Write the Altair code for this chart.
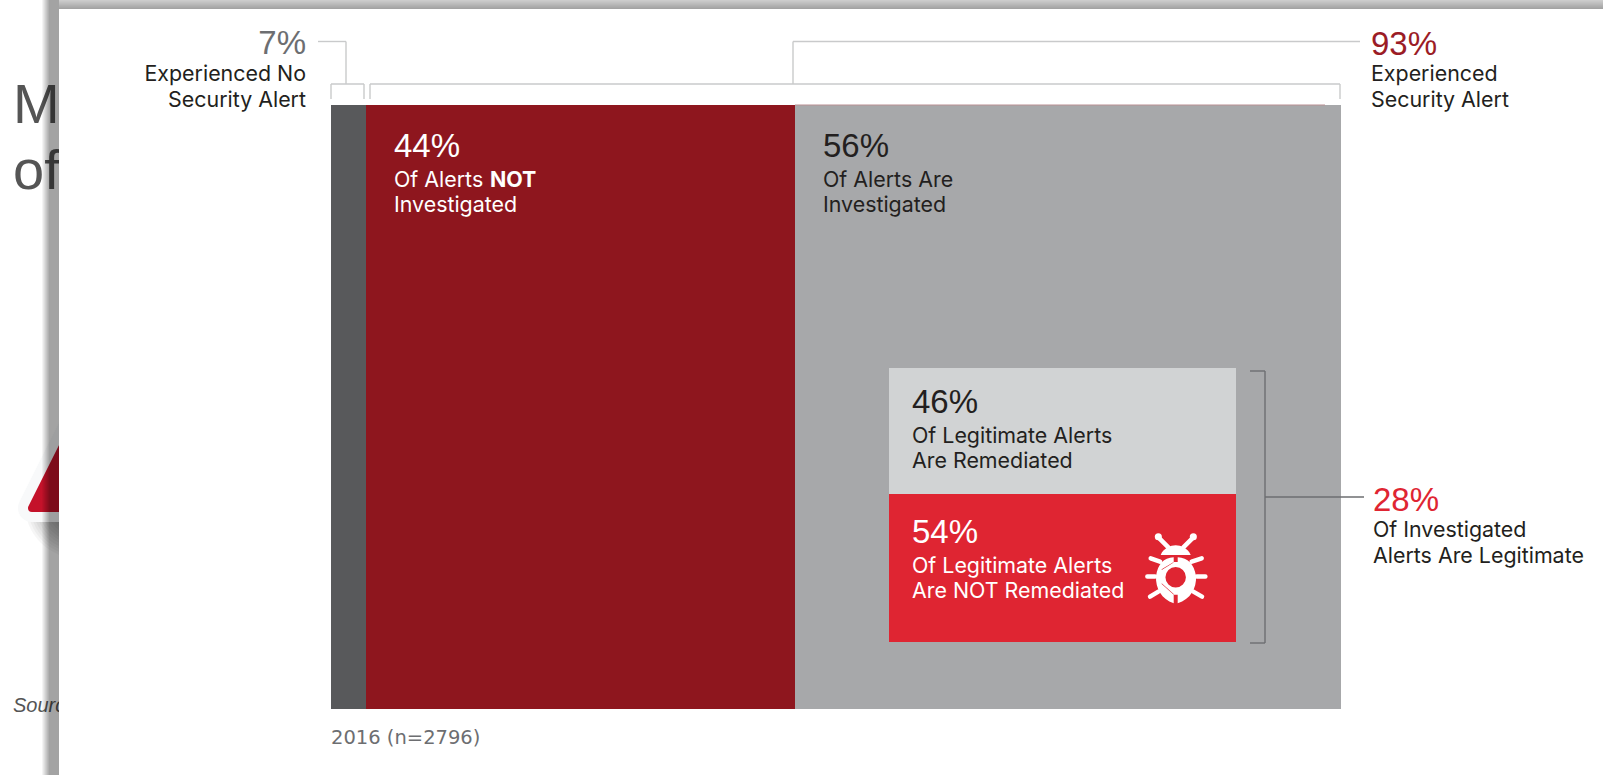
import re
import altair as alt

# Shares shown in the chart (percent)
no_alert, with_alert = 7, 93
not_investigated, investigated = 44, 56
remediated, not_remediated = 46, 54
legitimate = 28

SEG_COLORS = ["#58595b", "#8e161e", "#a7a8aa"]
BOX_COLORS = ["#df2532", "#d1d3d4"]
SANS = "Liberation Sans"
BODY = "Inter"
ONE = {"values": [{}]}

split = no_alert + with_alert * not_investigated / 100
segments = [
    {"name": "none", "start": 0, "end": no_alert},
    {"name": "not investigated", "start": no_alert, "end": split},
    {"name": "investigated", "start": split, "end": no_alert + with_alert},
]
box_parts = [
    {"name": "not remediated", "lo": 0, "hi": not_remediated},
    {"name": "remediated", "lo": not_remediated, "hi": not_remediated + remediated},
]


def box(x1, y1, x2, y2, fill, **mark):
    return alt.Chart(ONE).mark_rect(fill=fill, **mark).encode(
        x=alt.value(x1), x2=alt.value(x2), y=alt.value(y1), y2=alt.value(y2))


def seg(x1, y1, x2, y2, color="#c9cacb", width=1.4):
    return alt.Chart(ONE).mark_rule(color=color, strokeWidth=width).encode(
        x=alt.value(x1), x2=alt.value(x2), y=alt.value(y1), y2=alt.value(y2))


def label(text, x, y, size=21.4, color="#231f20", align="left", font=BODY, **mark):
    return alt.Chart(ONE).mark_text(
        text=text, fontSize=size, color=color, align=align, baseline="alphabetic",
        font=font, **mark).encode(x=alt.value(x), y=alt.value(y))


def figure(text, x, y, color="#231f20", align="left"):
    return label(text, x, y, size=33, color=color, align=align, font=SANS)


def symbol(path, x, y, size, opacity=1, **mark):
    return alt.Chart(ONE).mark_point(shape=path, size=size, opacity=opacity, **mark).encode(
        x=alt.value(x), y=alt.value(y))


def unit_path(d, cx=137, cy=175, unit=105):
    """Rescale an icon outline to the -1..1 box a custom symbol is drawn in."""
    coords = iter(range(10 ** 6))

    def conv(m):
        v = float(m.group())
        c = cx if next(coords) % 2 == 0 else cy
        return f"{(v - c) / unit:.3f}"

    return re.sub(r"-?\d+\.?\d*", conv, d)


layers = []

# Slide lying behind the panel
layers += [
    label("M", 13, 123, size=56, color="#555555", font=SANS),
    label("of", 13, 189, size=56, color="#555555", font=SANS),
    label("Source", 13, 712, size=20, color="#555555", font=SANS, fontStyle="italic"),
]
# Soft shadow under the warning triangle, built from concentric discs
for r in range(6, 62, 3):
    layers.append(symbol("circle", 78, 505, 3.1416 * r * r, opacity=0.035,
                         filled=True, fill="#000000", strokeWidth=0))
layers += [
    symbol("M-1,1 L0,-1 L1,1 Z", 92, 448, 14400, filled=True, fill="#f8f9fa",
           stroke="#f8f9fa", strokeWidth=28, strokeJoin="round"),
    symbol("M-1,1 L0,-1 L1,1 Z", 92, 448, 14400, filled=True, fill="#c4122a",
           stroke="#c4122a", strokeWidth=8, strokeJoin="round"),
]

# Panel shadow in one-pixel bands, then the panel itself
for i in range(17):
    layers.append(box(42 + i, 0, 43 + i, 775, "#000000", opacity=min(0.36, 0.045 * (i + 1))))
for i in range(9):
    layers.append(box(59, i, 1603, i + 1, "#000000", opacity=0.2 + 0.02 * i))
layers.append(box(59, 9, 1603, 775, "#ffffff"))

# Main split: the first 7 points get a compressed stretch of the axis
layers.append(
    alt.Chart(alt.Data(values=segments)).mark_rect().encode(
        x=alt.X("start:Q", axis=None,
                scale=alt.Scale(domain=[0, no_alert, no_alert + with_alert],
                                range=[331, 366, 1341], nice=False, zero=False)),
        x2="end:Q",
        y=alt.value(105), y2=alt.value(709),
        color=alt.Color("name:N", legend=None, scale=alt.Scale(
            domain=[s["name"] for s in segments], range=SEG_COLORS)),
    ))
layers.append(seg(795, 105, 1325, 105, color="#b98f92", width=1))

# Inset split of the legitimate alerts
layers.append(
    alt.Chart(alt.Data(values=box_parts)).mark_rect().encode(
        x=alt.value(889), x2=alt.value(1236),
        y=alt.Y("lo:Q", axis=None,
                scale=alt.Scale(domain=[0, 100], range=[642, 368], nice=False, zero=False)),
        y2="hi:Q",
        fill=alt.Fill("name:N", legend=None, scale=alt.Scale(
            domain=[p["name"] for p in box_parts], range=BOX_COLORS)),
    ))

# Brackets and leader lines
layers += [
    seg(318, 41.5, 346, 41.5), seg(346, 41.5, 346, 84),
    seg(331, 84, 364, 84), seg(331, 84, 331, 99), seg(364, 84, 364, 99),
    seg(370, 84, 1340, 84), seg(370, 84, 370, 99), seg(1340, 84, 1340, 99),
    seg(793, 41.5, 793, 84), seg(793, 41.5, 1360, 41.5),
]
DARK = "#6d6e71"
layers += [
    seg(1250, 371, 1265, 371, DARK), seg(1250, 643, 1265, 643, DARK),
    seg(1265, 371, 1265, 643, DARK), seg(1265, 497, 1364, 497, DARK),
]

# Labels
layers += [
    figure(f"{no_alert}%", 306, 54, color="#6d6e71", align="right"),
    label("Experienced No", 306, 81, align="right"),
    label("Security Alert", 306, 107, align="right"),
    figure(f"{with_alert}%", 1371, 55, color="#9b1c26"),
    label("Experienced", 1371, 81),
    label("Security Alert", 1371, 107),
    figure(f"{not_investigated}%", 394, 157, color="#ffffff"),
    label("Of Alerts", 394, 187, color="#ffffff"),
    label("NOT", 490, 187, color="#ffffff", fontWeight="bold"),
    label("Investigated", 394, 212, color="#ffffff"),
    figure(f"{investigated}%", 823, 157),
    label("Of Alerts Are", 823, 187),
    label("Investigated", 823, 212),
    figure(f"{remediated}%", 912, 413),
    label("Of Legitimate Alerts", 912, 443),
    label("Are Remediated", 912, 468),
    figure(f"{not_remediated}%", 912, 543, color="#ffffff"),
    label("Of Legitimate Alerts", 912, 573, color="#ffffff"),
    label("Are NOT Remediated", 912, 598, color="#ffffff"),
    figure(f"{legitimate}%", 1373, 511, color="#df2532"),
    label("Of Investigated", 1373, 537),
    label("Alerts Are Legitimate", 1373, 563),
    label("2016 (n=2796)", 331, 744, size=19.5, color="#6d6e71", font="DejaVu Sans"),
]

# Bug icon
ICON_X, ICON_Y, ICON_SIZE = 1175.7, 578.3, 4900
body = ("M131,112 C100,114 84,132 78,168 C76,205 95,238 131,250 L131,222 L95,190 L95,150 L131,128 Z "
        "M143,112 C174,114 192,132 198,168 C200,205 181,238 143,250 L143,222 L179,190 L179,150 L143,128 Z "
        "M92,105 C100,85 122,76 137,76 C152,76 174,85 182,105 Z "
        "M95,148 L131,126 L143,126 L179,148 L179,192 L143,224 L131,224 L95,192 Z")
legs = ("M115,82 L85,52 M160,82 L190,52 M90,125 L62,115 M185,125 L215,115 "
        "M75,170 L52,170 M200,170 L226,170 M85,215 L60,230 M190,215 L216,230")
rings = ("M141,172 A11,11 0 1 1 119,172 A11,11 0 1 1 141,172 "
         "M130,160 A7,7 0 1 1 129.9,160 M120,183 A7,7 0 1 1 119.9,183 M141,183 A7,7 0 1 1 140.9,183")
layers += [
    symbol(unit_path(body), ICON_X, ICON_Y, ICON_SIZE, filled=True, fill="#ffffff", strokeWidth=0),
    symbol(unit_path(legs), ICON_X, ICON_Y, ICON_SIZE, filled=False, stroke="#ffffff",
           strokeWidth=4.5, strokeCap="round"),
    symbol("circle", 1130 + 85 / 3, 520 + 50 / 3, 50, filled=True, fill="#ffffff", strokeWidth=0),
    symbol("circle", 1130 + 190 / 3, 520 + 50 / 3, 50, filled=True, fill="#ffffff", strokeWidth=0),
    symbol("circle", 1130 + 137 / 3, 520 + 172 / 3, 420, filled=True, fill="#df2532", strokeWidth=0),
    symbol(unit_path(rings, cx=130, cy=172), 1130 + 137 / 3, 520 + 172 / 3, ICON_SIZE,
           opacity=0.85, filled=False, stroke="#ffffff", strokeWidth=0.8),
]

chart = (
    alt.layer(*layers)
    .properties(width=1603, height=775, padding=0, autosize="none", background="#ffffff")
    .configure_view(stroke=None)
)
chart.save("out.html", embed_options={"renderer": "svg", "actions": False})
